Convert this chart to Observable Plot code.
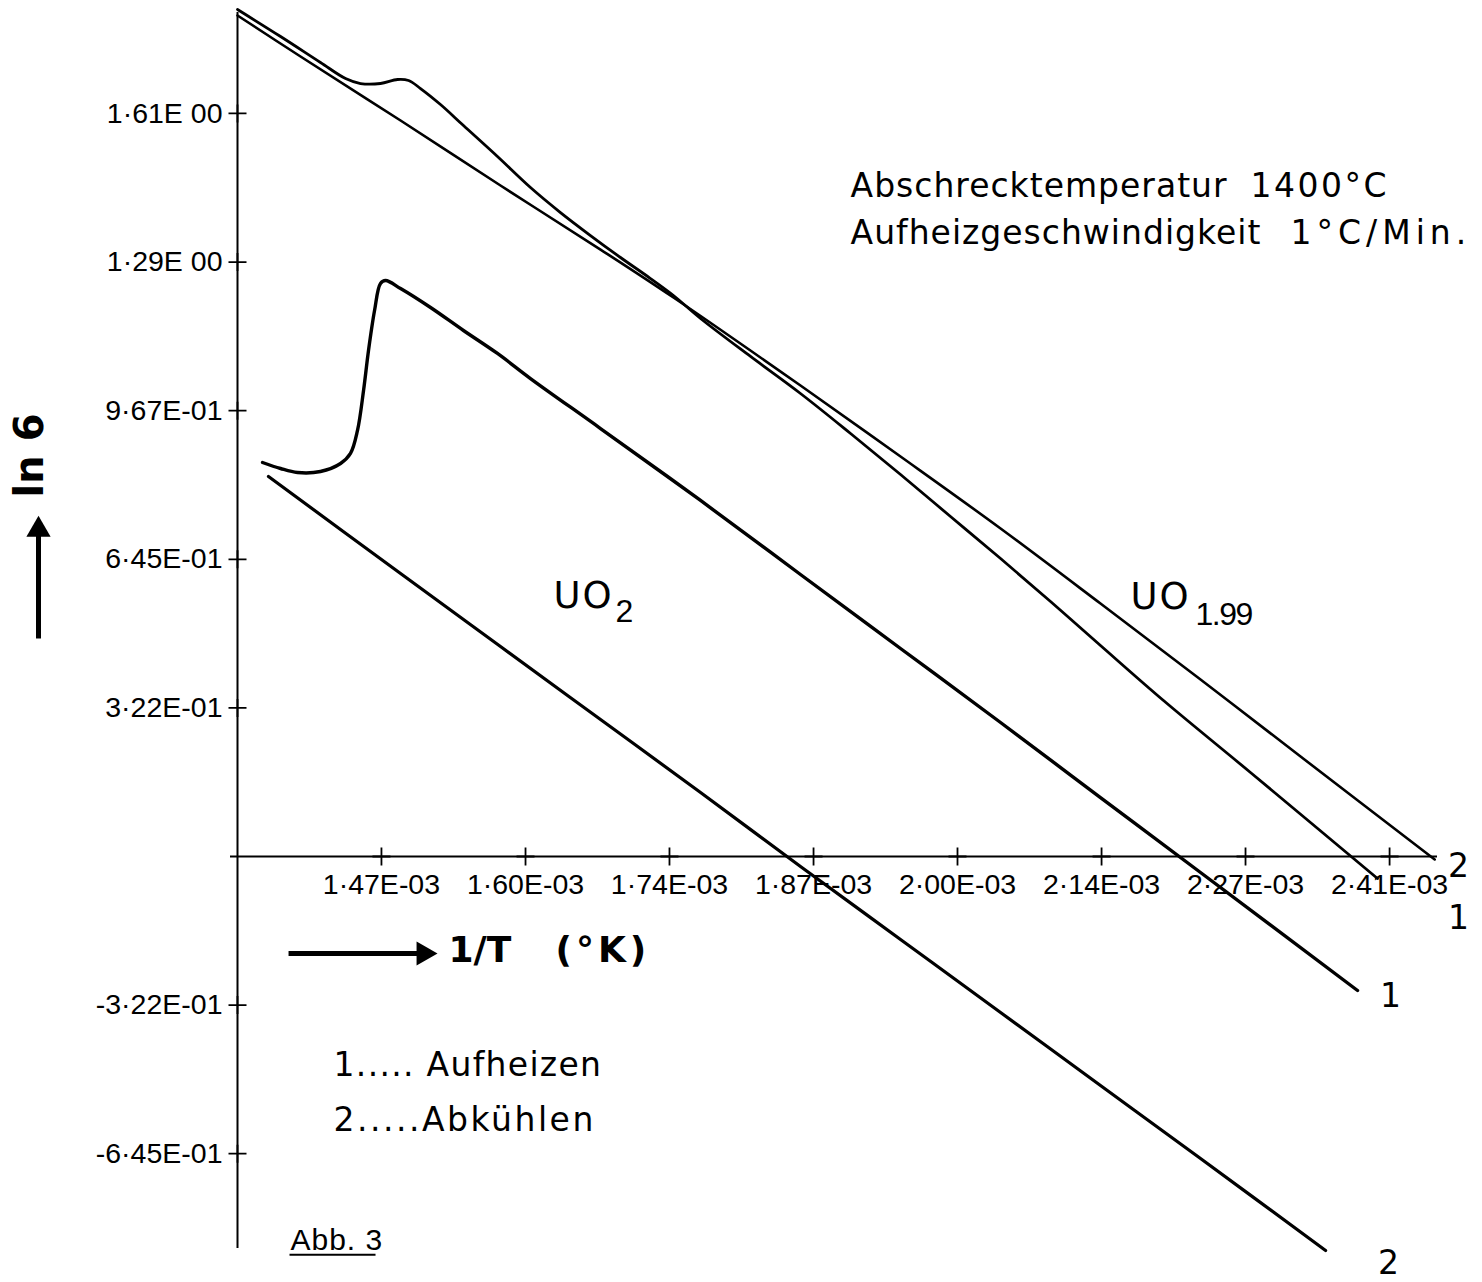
<!DOCTYPE html>
<html><head><meta charset="utf-8">
<script src="https://cdn.jsdelivr.net/npm/d3@7"></script>
<script src="https://cdn.jsdelivr.net/npm/@observablehq/plot@0.6"></script>
<style>
html,body{margin:0;padding:0;background:#fff;}
#chart svg{display:block;}
</style>
</head><body><div id="chart"></div>
<script>
// ---- axis ticks (x in units of 1E-03 1/K, y = ln sigma) ----
const xTickValues = [1.4760, 1.6095, 1.7429, 1.8764, 2.0098, 2.1433, 2.2767, 2.4102];
const xTickLabels = ["1·47E-03","1·60E-03","1·74E-03","1·87E-03","2·00E-03","2·14E-03","2·27E-03","2·41E-03"];
const yTickValues = [1.6125, 1.29, 0.9675, 0.645, 0.3225, -0.3225, -0.645];
const yTickLabels = ["1·61E 00","1·29E 00","9·67E-01","6·45E-01","3·22E-01","-3·22E-01","-6·45E-01"];

// ---- UO1.99 : 1 = Aufheizen, 2 = Abkühlen ----
const uo199Heat = [
  [1.3426,1.8381],[1.3825,1.7795],[1.4195,1.7231],[1.4427,1.6883],[1.4566,1.6775],[1.4751,1.6775],
  [1.4909,1.6862],[1.5011,1.6840],[1.5122,1.6666],[1.5307,1.6319],[1.5520,1.5863],[1.5835,1.5191],
  [1.6141,1.4518],[1.6419,1.3975],[1.6697,1.3476],[1.6975,1.2999],[1.7253,1.2543],[1.7466,1.2174],
  [1.7717,1.1675],[1.8180,1.0851],[1.8643,1.0048],[1.9107,0.9180],[1.9570,0.8290],[2.0033,0.7378],
  [2.0497,0.6467],[2.0960,0.5534],[2.1423,0.4579],[2.2007,0.3385],[2.2813,0.1823],[2.3990,-0.0477]
];
const uo199Cool = [
  [1.3426,1.8251],[1.4010,1.7361],[1.4937,1.5972],[1.5863,1.4561],[1.6790,1.3172],[1.7466,1.2131],
  [1.8643,1.0221],[1.9570,0.8680],[2.0497,0.7118],[2.1423,0.5490],[2.2350,0.3841],[2.3277,0.2170],
  [2.4520,-0.0065]
];
// ---- UO2 : 1 = Aufheizen, 2 = Abkühlen ----
const uo2Heat = [
  [1.3658,0.8550],[1.3825,0.8420],[1.3982,0.8333],[1.4195,0.8355],[1.4381,0.8529],[1.4473,0.8746],
  [1.4538,0.9245],[1.4594,1.0113],[1.4640,1.0981],[1.4696,1.1849],[1.4751,1.2435],[1.4798,1.2500],
  [1.4937,1.2326],[1.5215,1.1914],[1.5520,1.1415],[1.5835,1.0916],[1.6141,1.0373],[1.6790,0.9288],
  [1.7717,0.7726],[1.8643,0.6120],[1.9570,0.4514],[2.0497,0.2908],[2.1423,0.1280],[2.2350,-0.0347],
  [2.3805,-0.2908]
];
const uo2Cool = [
  [1.3713,0.8246],[1.4937,0.6141],[1.5863,0.4557],[1.6790,0.2973],[1.7717,0.1389],[1.8643,-0.0217],
  [1.9570,-0.1801],[2.0497,-0.3385],[2.1423,-0.4970],[2.2350,-0.6554],[2.3509,-0.8550]
];

const xDomain = [1.3426, 2.4546];
const yDomain = [-0.8507, 1.8316];

const tickCross = {draw(ctx, size){ const r = Math.sqrt(size / Math.PI);
  ctx.moveTo(-r, 0); ctx.lineTo(r, 0); ctx.moveTo(0, -r); ctx.lineTo(0, r); }};

const plotFont = "'Liberation Sans Narrow','Liberation Sans',sans-serif";
const textFont = "'DejaVu Sans',sans-serif";
const px = d => d[0], py = d => d[1];

const chart = Plot.plot({
  width: 1482, height: 1282,
  marginLeft: 237, marginRight: 45, marginTop: 12, marginBottom: 34,
  x: {domain: xDomain, axis: null},
  y: {domain: yDomain, axis: null},
  style: {background: "#fff", color: "#000"},
  marks: [
    // axes
    Plot.ruleX([xDomain[0]], {stroke: "#000", strokeWidth: 2}),
    Plot.ruleY([0], {stroke: "#000", strokeWidth: 2, insetLeft: -7}),
    Plot.dot(xTickValues, {x: d => d, y: 0, symbol: tickCross, r: 9, stroke: "#000", fill: "none", strokeWidth: 1.8}),
    Plot.dot(yTickValues, {x: xDomain[0], y: d => d, symbol: tickCross, r: 9, stroke: "#000", fill: "none", strokeWidth: 1.8}),
    Plot.text(xTickValues, {x: d => d, y: 0, text: (d, i) => xTickLabels[i], dy: 28, fontSize: 28.5, fontFamily: plotFont, fill: "#000"}),
    Plot.text(yTickValues, {x: xDomain[0], y: d => d, text: (d, i) => yTickLabels[i], dx: -15, textAnchor: "end", fontSize: 28.5, fontFamily: plotFont, fill: "#000"}),
    // curves
    Plot.line(uo199Cool, {x: px, y: py, stroke: "#000", strokeWidth: 2.6, curve: "catmull-rom"}),
    Plot.line(uo199Heat, {x: px, y: py, stroke: "#000", strokeWidth: 2.8, curve: "catmull-rom"}),
    Plot.line(uo2Heat, {x: px, y: py, stroke: "#000", strokeWidth: 3.4, curve: "catmull-rom"}),
    Plot.line(uo2Cool, {x: px, y: py, stroke: "#000", strokeWidth: 3.2, curve: "catmull-rom"}),
    // curve labels
    Plot.text([{x: 2.4741, y: -0.0217, t: "2"}, {x: 2.4741, y: -0.1345, t: "1"}, {x: 2.4111, y: -0.3038, t: "1"}, {x: 2.4092, y: -0.8832, t: "2"}],
      {x: "x", y: "y", text: "t", fontSize: 33, fontFamily: textFont, fill: "#000"}),
    Plot.text([{x: 1.6354, y: 0.5642, t: "UO"}, {x: 2.1701, y: 0.5621, t: "UO"}],
      {x: "x", y: "y", text: "t", textAnchor: "start", fontSize: 37, fontFamily: textFont, fill: "#000"}),
    Plot.text([{x: 1.6929, y: 0.5317, t: "2"}, {x: 2.2304, y: 0.5252, t: "1.99"}],
      {x: "x", y: "y", text: "t", textAnchor: "start", fontSize: 32, fontFamily: plotFont, fill: "#000"}),
    // header annotation
    Plot.text([{x: 1.9107, y: 1.4540, t: "Abschrecktemperatur"}, {x: 2.2813, y: 1.4540, t: "1400°C"},
               {x: 1.9107, y: 1.3520, t: "Aufheizgeschwindigkeit"}, {x: 2.3184, y: 1.3520, t: "1°C/Min."}],
      {x: "x", y: "y", text: "t", textAnchor: "start", fontSize: 33, fontFamily: textFont, fill: "#000"}),
    // legend
    Plot.text([{x: 1.4316, y: -0.4536, t: "1..... Aufheizen"}, {x: 1.4316, y: -0.5729, t: "2.....Abkühlen"}],
      {x: "x", y: "y", text: "t", textAnchor: "start", fontSize: 33, fontFamily: textFont, fill: "#000"}),
    // x axis title with arrow
    Plot.link([{x1: 1.3899, x2: 1.5100, y: -0.2105}], {x1: "x1", x2: "x2", y1: "y", y2: "y", stroke: "#000", strokeWidth: 5}),
    Plot.dot([{x: 1.5150, y: -0.2105}], {x: "x", y: "y", symbol: "triangle", rotate: 90, r: 9, fill: "#000"}),
    Plot.text([{x: 1.5381, y: -0.2040, t: "1/T"}, {x: 1.6373, y: -0.2040, t: "(°K)"}],
      {x: "x", y: "y", text: "t", textAnchor: "start", fontSize: 36, fontWeight: "bold", fontFamily: textFont, fill: "#000"}),
    // y axis title with arrow
    Plot.link([{x: 1.1582, y1: 0.4731, y2: 0.7050}], {x1: "x", x2: "x", y1: "y1", y2: "y2", stroke: "#000", strokeWidth: 5}),
    Plot.dot([{x: 1.1582, y: 0.7090}], {x: "x", y: "y", symbol: "triangle", r: 9, fill: "#000"}),
    Plot.text([{x: 1.1508, y: 0.8702, t: "ln 6"}],
      {x: "x", y: "y", text: "t", rotate: -90, fontSize: 40, fontWeight: "bold", fontFamily: textFont, fill: "#000"}),
    // figure number
    Plot.text([{x: 1.3917, y: -0.8333, t: "Abb. 3"}],
      {x: "x", y: "y", text: "t", textAnchor: "start", fontSize: 30, fontFamily: plotFont, fill: "#000"}),
    Plot.link([{x1: 1.3908, x2: 1.4705, y: -0.8640}], {x1: "x1", x2: "x2", y1: "y", y2: "y", stroke: "#000", strokeWidth: 2})
  ]
});
// letter spacing to mimic the spaced lettering of the original
const spacing = {"Abschrecktemperatur": 1, "Aufheizgeschwindigkeit": 1, "1400°C": 2.5, "1°C/Min.": 5,
  "1..... Aufheizen": 1.3, "2.....Abkühlen": 2.5, "(°K)": 4, "UO": 2, "1.99": -1.5, "Abb. 3": 1};
d3.select(chart).selectAll("text").each(function(){
  const s = spacing[this.textContent];
  if (s !== undefined) this.setAttribute("letter-spacing", s);
});
document.getElementById("chart").appendChild(chart);
</script>
</body></html>
